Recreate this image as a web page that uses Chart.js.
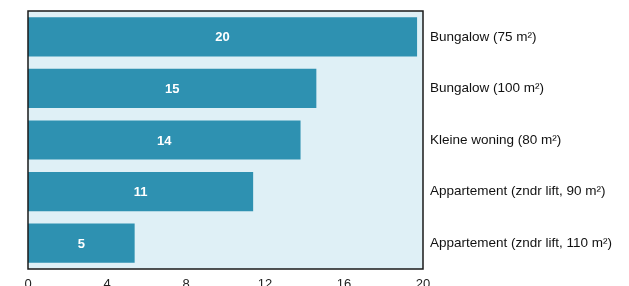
<!DOCTYPE html>
<html>
<head>
<meta charset="utf-8">
<script src="https://cdn.jsdelivr.net/npm/chart.js@4"></script>
<style>
  html, body { margin: 0; padding: 0; background: #fff; overflow: hidden; }
  #wrap { width: 629px; height: 286px; overflow: hidden; }
</style>
</head>
<body>
<div id="wrap"><canvas id="chart" width="629" height="300"></canvas></div>
<script>
// categories, top to bottom
const categories = [
  "Bungalow (75 m²)",
  "Bungalow (100 m²)",
  "Kleine woning (80 m²)",
  "Appartement (zndr lift, 90 m²)",
  "Appartement (zndr lift, 110 m²)",
];
// bar lengths
const values = [19.7, 14.6, 13.8, 11.4, 5.4];
// x axis ticks
const xMin = 0;
const xMax = 20;
const xStep = 4;

const barColor = "#2e91b1";
const panelColor = "#dff0f6";

// light blue panel behind the bars + black frame around it
const panelPlugin = {
  id: "panel",
  beforeDatasetsDraw(chart) {
    const { ctx, chartArea: a } = chart;
    ctx.save();
    ctx.fillStyle = panelColor;
    ctx.fillRect(a.left, a.top, a.right - a.left, a.bottom - a.top);
    ctx.restore();
  },
  afterDatasetsDraw(chart) {
    const { ctx, chartArea: a } = chart;
    ctx.save();
    ctx.strokeStyle = "#1a1a1a";
    ctx.lineWidth = 1.5;
    ctx.strokeRect(a.left, a.top, a.right - a.left, a.bottom - a.top);
    ctx.restore();
  },
};

// rounded value written in the middle of each bar
const valueLabels = {
  id: "valueLabels",
  afterDatasetsDraw(chart) {
    const { ctx } = chart;
    const meta = chart.getDatasetMeta(0);
    ctx.save();
    ctx.fillStyle = "#ffffff";
    ctx.font = "bold 13px 'Liberation Sans', Arial, sans-serif";
    ctx.textAlign = "center";
    ctx.textBaseline = "middle";
    meta.data.forEach((bar, i) => {
      const x = (bar.x + bar.base) / 2;
      ctx.fillText(String(Math.round(values[i])), x, bar.y + 1);
    });
    ctx.restore();
  },
};

new Chart(document.getElementById("chart"), {
  type: "bar",
  plugins: [panelPlugin, valueLabels],
  data: {
    labels: categories,
    datasets: [
      {
        data: values,
        backgroundColor: barColor,
        borderWidth: 0,
        categoryPercentage: 1,
        barPercentage: 0.76,
      },
    ],
  },
  options: {
    indexAxis: "y",
    responsive: false,
    animation: false,
    layout: { padding: { left: 28, top: 11, right: 0, bottom: 0 } },
    plugins: {
      legend: { display: false },
      tooltip: { enabled: false },
    },
    scales: {
      x: {
        min: xMin,
        max: xMax,
        grid: { display: false, drawTicks: false },
        border: { display: false },
        ticks: {
          stepSize: xStep,
          padding: 8,
          color: "#222",
          font: { family: "'Liberation Sans', Arial, sans-serif", size: 13 },
        },
        afterFit(s) { s.height = 31; s.paddingLeft = 0; s.paddingRight = 0; },
      },
      y: {
        position: "right",
        grid: { display: false, drawTicks: false },
        border: { display: false },
        ticks: {
          padding: 7,
          color: "#111",
          font: { family: "'Liberation Sans', Arial, sans-serif", size: 13.5 },
        },
        afterFit(s) { s.width = 206; s.paddingTop = 0; s.paddingBottom = 0; },
      },
    },
  },
});
</script>
</body>
</html>
